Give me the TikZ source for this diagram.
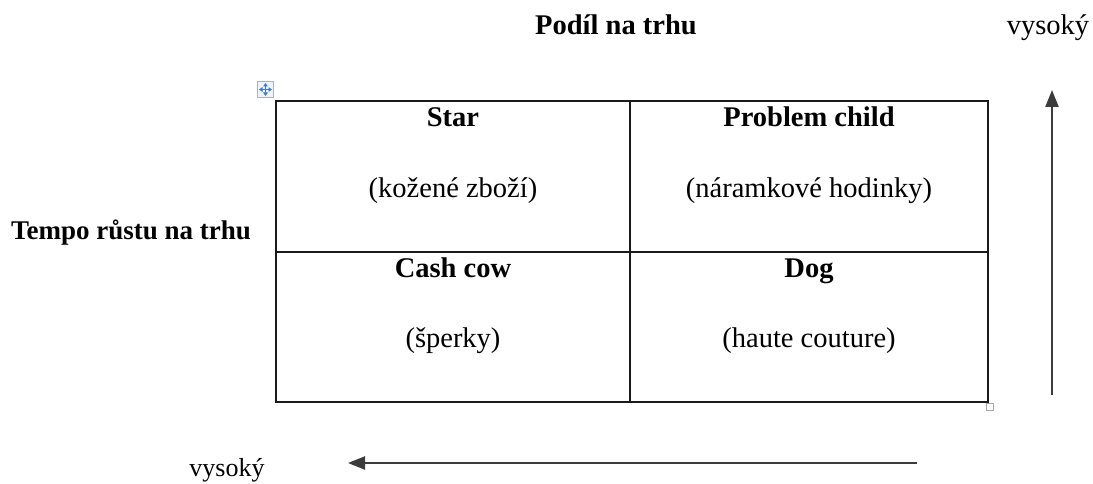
\documentclass[tikz,border=0pt]{standalone}
\usepackage{fontspec}
\setmainfont{Liberation Serif}
\usetikzlibrary{arrows.meta}
\definecolor{rule}{HTML}{1A1A1A}
\definecolor{arrowgray}{HTML}{3C3C3C}
\definecolor{handleblue}{HTML}{3A7BD5}
\definecolor{handleframe}{HTML}{A8B4C4}
\tikzset{
  txt/.style={anchor=base, inner sep=0pt, font=\fontsize{28.5}{33}\selectfont},
  head/.style={txt, font=\fontsize{28.5}{33}\selectfont\bfseries},
  grid/.style={draw=rule, line width=1.8pt},
  axis/.style={draw=arrowgray, line width=2.2pt, -{Triangle[length=17pt,width=13pt]}},
}
\begin{document}
\begin{tikzpicture}[x=1pt, y=-1pt]
  \useasboundingbox (0,0) rectangle (1093,484);

  % axis titles
  \node[head] (share) at (616,35) {Podíl na trhu};
  \node[head, font=\fontsize{27}{32}\selectfont\bfseries] (growth) at (131,240) {Tempo růstu na trhu};
  \node[txt] (hiTop) at (1048,35) {vysoký};
  \node[txt, font=\fontsize{26}{31}\selectfont] (hiLeft) at (227,476) {vysoký};

  % matrix frame
  \coordinate (tl) at (276,101);
  \coordinate (br) at (988,402);
  \draw[grid] (tl) rectangle (br);
  \draw[grid] (630,101) -- (630,402);
  \draw[grid] (276,252) -- (988,252);

  % cell contents
  \node[head] (star) at (453,127) {Star};
  \node[txt] (starEx) at (453,197) {(kožené zboží)};
  \node[head] (child) at (809,127) {Problem child};
  \node[txt] (childEx) at (809,197) {(náramkové hodinky)};
  \node[head] (cow) at (453,277) {Cash cow};
  \node[txt] (cowEx) at (453,347) {(šperky)};
  \node[head] (dog) at (809,277) {Dog};
  \node[txt] (dogEx) at (809,347) {(haute couture)};

  % growth and share arrows
  \coordinate (vBot) at (1052,395);
  \coordinate (vTop) at (1052,90);
  \draw[axis] (vBot) -- (vTop);
  \coordinate (hRight) at (917,463);
  \coordinate (hLeft) at (348,463);
  \draw[axis] (hRight) -- (hLeft);

  % table move handle
  \node[draw=handleframe, fill=gray!10, line width=0.9pt, minimum size=16pt, inner sep=0pt] (handle) at (265.5,89.5) {};
  \draw[handleblue, line width=1.2pt, {Triangle[length=3.5pt,width=4.5pt]}-{Triangle[length=3.5pt,width=4.5pt]}] (259,89.5) -- (272,89.5);
  \draw[handleblue, line width=1.2pt, {Triangle[length=3.5pt,width=4.5pt]}-{Triangle[length=3.5pt,width=4.5pt]}] (265.5,83) -- (265.5,96);

  % table resize handle
  \node[draw=gray!70, fill=white, line width=1.2pt, minimum size=7pt, inner sep=0pt] (resize) at (990,407) {};
\end{tikzpicture}
\end{document}
